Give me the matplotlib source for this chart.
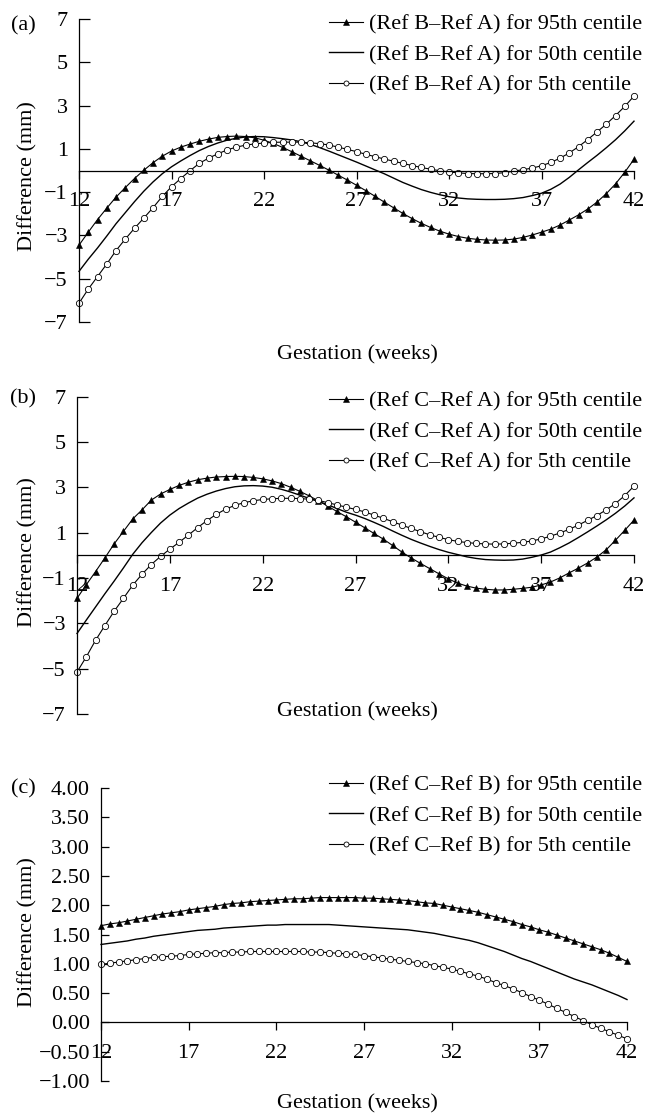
import matplotlib
matplotlib.use('Agg')
import matplotlib.pyplot as plt
import numpy as np
from matplotlib.ticker import FuncFormatter

plt.rcParams['font.family'] = ['Liberation Serif', 'DejaVu Serif']
plt.rcParams['font.size'] = 16

# Gestation grid (weeks)
weeks = np.arange(12, 42.01, 0.5)

# Panel (a): Ref B - Ref A
a95 = [-3.45, -2.85, -2.27, -1.74, -1.23, -0.79, -0.37, 0.01, 0.36, 0.66,
       0.90, 1.08, 1.22, 1.35, 1.45, 1.53, 1.57, 1.59, 1.57, 1.51,
       1.40, 1.25, 1.07, 0.87, 0.66, 0.45, 0.24, 0.02, -0.21, -0.44,
       -0.68, -0.93, -1.19, -1.46, -1.72, -1.98, -2.22, -2.44, -2.63, -2.80,
       -2.94, -3.05, -3.13, -3.18, -3.21, -3.22, -3.21, -3.17, -3.09, -2.98,
       -2.85, -2.71, -2.52, -2.29, -2.05, -1.78, -1.46, -1.07, -0.62, -0.08,
       0.52]
a50 = [-4.66, -4.10, -3.58, -3.03, -2.46, -1.95, -1.44, -0.96, -0.53, -0.15,
       0.17, 0.44, 0.69, 0.92, 1.11, 1.27, 1.40, 1.49, 1.55, 1.57,
       1.56, 1.52, 1.47, 1.41, 1.33, 1.21, 1.06, 0.90, 0.73, 0.56,
       0.39, 0.21, 0.03, -0.15, -0.35, -0.55, -0.72, -0.88, -1.01, -1.12,
       -1.21, -1.27, -1.31, -1.33, -1.34, -1.34, -1.33, -1.30, -1.25, -1.16,
       -1.05, -0.87, -0.63, -0.32, 0.03, 0.37, 0.70, 1.05, 1.42, 1.83,
       2.28]
a05 = [-6.13, -5.48, -4.90, -4.32, -3.70, -3.17, -2.67, -2.20, -1.72, -1.20,
       -0.75, -0.37, -0.01, 0.33, 0.57, 0.77, 0.95, 1.08, 1.17, 1.23,
       1.27, 1.30, 1.31, 1.31, 1.31, 1.28, 1.24, 1.18, 1.08, 0.98,
       0.87, 0.75, 0.64, 0.53, 0.43, 0.33, 0.23, 0.14, 0.06, -0.01,
       -0.07, -0.11, -0.14, -0.15, -0.15, -0.14, -0.10, -0.03, 0.04, 0.11,
       0.22, 0.37, 0.57, 0.81, 1.10, 1.43, 1.78, 2.14, 2.54, 2.96,
       3.44]

# Panel (b): Ref C - Ref A
b95 = [-1.90, -1.30, -0.72, -0.12, 0.50, 1.05, 1.60, 2.00, 2.43, 2.70,
       2.90, 3.08, 3.22, 3.33, 3.40, 3.45, 3.47, 3.48, 3.47, 3.43,
       3.37, 3.28, 3.16, 3.00, 2.82, 2.62, 2.40, 2.17, 1.93, 1.70,
       1.46, 1.21, 0.96, 0.71, 0.43, 0.14, -0.12, -0.36, -0.59, -0.82,
       -1.04, -1.23, -1.36, -1.45, -1.50, -1.53, -1.53, -1.50, -1.46, -1.41,
       -1.31, -1.18, -1.00, -0.78, -0.57, -0.34, -0.08, 0.24, 0.66, 1.10,
       1.55]
b50 = [-3.45, -2.86, -2.28, -1.70, -1.14, -0.56, 0.04, 0.55, 1.00, 1.42,
       1.77, 2.06, 2.30, 2.52, 2.69, 2.83, 2.94, 3.02, 3.06, 3.07,
       3.05, 3.00, 2.91, 2.79, 2.65, 2.51, 2.37, 2.23, 2.06, 1.90,
       1.77, 1.62, 1.45, 1.27, 1.07, 0.88, 0.70, 0.54, 0.39, 0.25,
       0.13, 0.03, -0.07, -0.14, -0.19, -0.21, -0.22, -0.21, -0.17, -0.09,
       0.01, 0.14, 0.33, 0.54, 0.78, 1.03, 1.29, 1.56, 1.85, 2.17,
       2.53]
b05 = [-5.15, -4.48, -3.75, -3.10, -2.47, -1.90, -1.32, -0.84, -0.41, -0.05,
       0.27, 0.57, 0.89, 1.22, 1.53, 1.80, 2.03, 2.20, 2.32, 2.40,
       2.46, 2.49, 2.51, 2.51, 2.50, 2.47, 2.42, 2.32, 2.22, 2.12,
       2.02, 1.91, 1.77, 1.63, 1.48, 1.33, 1.18, 1.04, 0.90, 0.79,
       0.69, 0.61, 0.56, 0.52, 0.50, 0.49, 0.50, 0.53, 0.57, 0.63,
       0.72, 0.84, 0.98, 1.14, 1.33, 1.54, 1.75, 2.00, 2.28, 2.63,
       3.05]

# Panel (c): Ref C - Ref B
c95 = [1.65, 1.68, 1.70, 1.73, 1.76, 1.79, 1.82, 1.85, 1.87, 1.89,
       1.92, 1.94, 1.96, 1.98, 2.01, 2.03, 2.04, 2.06, 2.07, 2.08,
       2.09, 2.10, 2.11, 2.11, 2.12, 2.13, 2.13, 2.13, 2.13, 2.13,
       2.12, 2.12, 2.11, 2.10, 2.09, 2.08, 2.06, 2.04, 2.03, 2.00,
       1.97, 1.94, 1.91, 1.88, 1.84, 1.80, 1.76, 1.72, 1.67, 1.63,
       1.58, 1.54, 1.49, 1.44, 1.39, 1.34, 1.29, 1.24, 1.18, 1.11,
       1.04]
c50 = [1.33, 1.35, 1.37, 1.39, 1.42, 1.44, 1.47, 1.49, 1.51, 1.53,
       1.55, 1.57, 1.58, 1.59, 1.61, 1.62, 1.63, 1.64, 1.65, 1.66,
       1.66, 1.67, 1.67, 1.67, 1.67, 1.67, 1.67, 1.66, 1.65, 1.64,
       1.63, 1.62, 1.61, 1.60, 1.59, 1.58, 1.56, 1.54, 1.52, 1.49,
       1.46, 1.43, 1.40, 1.36, 1.31, 1.26, 1.21, 1.15, 1.09, 1.04,
       0.98, 0.92, 0.86, 0.80, 0.74, 0.69, 0.64, 0.58, 0.52, 0.46,
       0.39]
c05 = [0.99, 1.01, 1.03, 1.05, 1.07, 1.09, 1.11, 1.12, 1.13, 1.14,
       1.16, 1.17, 1.18, 1.19, 1.19, 1.20, 1.20, 1.21, 1.21, 1.21,
       1.21, 1.21, 1.21, 1.21, 1.20, 1.20, 1.19, 1.18, 1.17, 1.16,
       1.14, 1.12, 1.10, 1.08, 1.06, 1.04, 1.02, 1.00, 0.97, 0.94,
       0.91, 0.87, 0.83, 0.79, 0.74, 0.68, 0.63, 0.57, 0.51, 0.44,
       0.38, 0.31, 0.24, 0.17, 0.10, 0.03, -0.04, -0.10, -0.16, -0.22,
       -0.28]

xticks = [12, 17, 22, 27, 32, 37, 42]
yticks_ab = [7, 5, 3, 1, -1, -3, -5, -7]
yticks_c = [4.0, 3.5, 3.0, 2.5, 2.0, 1.5, 1.0, 0.5, 0.0, -0.5, -1.0]

W, H = 647, 1119
fig = plt.figure(figsize=(W / 100, H / 100), dpi=100)


def rect(left, right, top, bottom):
    return [left / W, 1 - bottom / H, (right - left) / W, (bottom - top) / H]


def fmt_int(v, pos):
    return ('%d' % round(v)).replace('-', '\u2212')


def fmt_2f(v, pos):
    s = '%.2f' % v
    if s == '-0.00':
        s = '0.00'
    return s.replace('-', '\u2212')


panels = [
    dict(tag='(a)', pair='Ref B\u2013Ref A', rect=(79, 634, 19, 322), ylim=(-7, 7),
         yticks=yticks_ab, fmt=fmt_int, data=(a95, a50, a05),
         tagy=26, ylab_y=176, xlab_y=355, leg_top=14, ylen=8),
    dict(tag='(b)', pair='Ref C\u2013Ref A', rect=(77, 634, 396.5, 714), ylim=(-7, 7),
         yticks=yticks_ab, fmt=fmt_int, data=(b95, b50, b05),
         tagy=399, ylab_y=552, xlab_y=712, leg_top=391, ylen=8),
    dict(tag='(c)', pair='Ref C\u2013Ref B', rect=(101, 627, 788, 1081), ylim=(-1, 4),
         yticks=yticks_c, fmt=fmt_2f, data=(c95, c50, c05),
         tagy=789, ylab_y=932, xlab_y=1104, leg_top=775, ylen=6),
]

for p in panels:
    ax = fig.add_axes(rect(*p['rect']))
    s95, s50, s05 = p['data']
    ax.plot(weeks, s95, color='k', lw=0.8, marker='^', ms=5, mfc='k', mec='k',
            mew=0.4, clip_on=False, label='(%s) for 95th centile' % p['pair'])
    ax.plot(weeks, s50, color='k', lw=1.0, clip_on=False,
            label='(%s) for 50th centile' % p['pair'])
    ax.plot(weeks, s05, color='k', lw=0.8, marker='o', ms=4.5, mfc='white', mec='k',
            mew=0.6, clip_on=False, label='(%s) for 5th centile' % p['pair'])
    ax.set_xlim(12, 42)
    ax.set_ylim(*p['ylim'])
    ax.set_xticks(xticks)
    ax.set_yticks(p['yticks'])
    ax.yaxis.set_major_formatter(FuncFormatter(p['fmt']))
    ax.spines['top'].set_visible(False)
    ax.spines['right'].set_visible(False)
    ax.spines['bottom'].set_position(('data', 0))
    ax.spines['bottom'].set_linewidth(0.9)
    ax.spines['left'].set_linewidth(0.9)
    ax.tick_params(axis='x', direction='out', length=6, width=0.9, pad=9.5, labelsize=16)
    ax.tick_params(axis='y', direction='in', length=p['ylen'], width=0.9, pad=8, labelsize=16)
    ax.patch.set_visible(False)

    leg = ax.legend(loc='upper left', bbox_to_anchor=(329 / W, 1 - p['leg_top'] / H),
                    bbox_transform=fig.transFigure, frameon=False, borderpad=0,
                    borderaxespad=0, handlelength=1.53, handletextpad=0.25,
                    labelspacing=0.45, numpoints=1, fontsize=16, markerscale=0.8)

    fig.text(23 / W, 1 - p['tagy'] / H, p['tag'], ha='center', va='center', fontsize=16)
    fig.text(28 / W, 1 - p['ylab_y'] / H, 'Difference (mm)', rotation=90,
             ha='center', va='center', fontsize=16)
    fig.text(357 / W, 1 - p['xlab_y'] / H, 'Gestation (weeks)', ha='center',
             va='center', fontsize=16)

fig.savefig('out.png', dpi=100)
